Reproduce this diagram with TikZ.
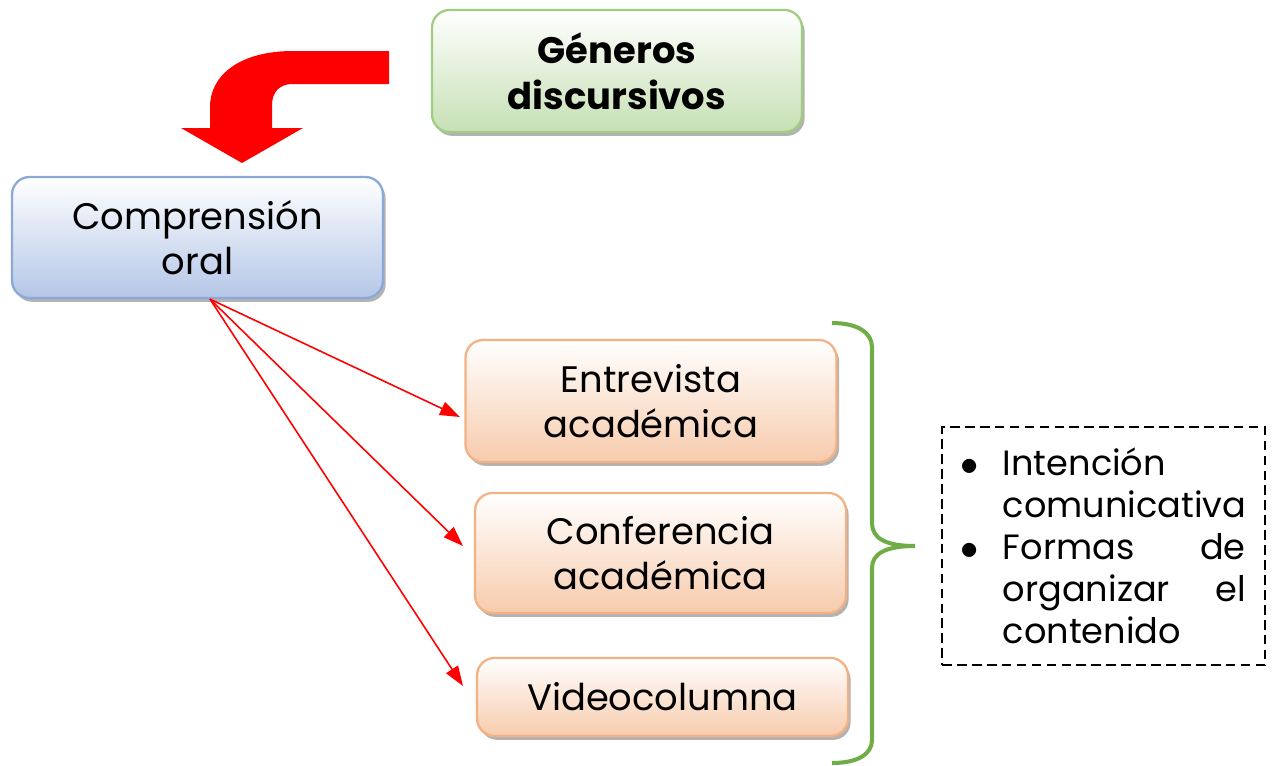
\documentclass[tikz,border=0pt]{standalone}
\usepackage{fontspec}
\setmainfont{Poppins}
\usepackage{tikz}
\usetikzlibrary{arrows.meta,shapes,positioning,shadows}
\definecolor{gngreen}{RGB}{160,205,130}
\definecolor{gnlightgreen}{RGB}{198,224,180}
\definecolor{gnblue}{RGB}{140,168,214}
\definecolor{gnlightblue}{RGB}{180,198,231}
\definecolor{gnorange}{RGB}{244,177,131}
\definecolor{gnlightorange}{RGB}{247,203,172}
\definecolor{gnbrace}{RGB}{112,173,71}
\tikzstyle{arrow} = [line width=0.9pt,red,-{Triangle[length=0.4cm,width=0.28cm]}]
\tikzstyle{box} = [rectangle, rounded corners=0.35cm, align=center, line width=1.3pt, top color=white, drop shadow={shadow xshift=1.5pt, shadow yshift=-2.2pt, fill=black!50, opacity=0.6}, font=\fontsize{21}{26}\selectfont]
\tikzstyle{titlebox} = [box, draw=gngreen, bottom color=gnlightgreen, minimum width=7.4cm, minimum height=2.44cm, font=\bfseries\fontsize{21}{26}\selectfont]
\tikzstyle{mainbox} = [box, draw=gnblue, bottom color=gnlightblue, minimum width=7.42cm, minimum height=2.42cm]
\tikzstyle{genrebox} = [box, draw=gnorange, bottom color=gnlightorange, minimum width=7.42cm]
\tikzstyle{notebox} = [rectangle, draw, line width=1.2pt, dash pattern=on 5.5pt off 3pt, minimum width=6.46cm, minimum height=4.76cm, font=\fontsize{20}{24}\selectfont]

\begin{document}
\begin{tikzpicture}[x=0.02cm, y=-0.02cm]
\useasboundingbox (0,0) rectangle (1272,765);
% Top and main boxes
\node (generos) [titlebox] at (617,71) {Géneros\\discursivos};
\node (comp) [mainbox] at (197.5,237.5) {Comprensión\\oral};

% Big curved arrow
\fill[red] (389,51) -- (293,51) .. controls (240,51) and (210,75) .. (210,107) -- (210,128) -- (181,128) -- (242,163) -- (303,128) -- (272,128) -- (272,105) .. controls (272,92) and (280,84) .. (292,84) -- (389,84) -- cycle;

% Genres
\node (entrevista) [genrebox, minimum height=2.44cm] at (651,401) {Entrevista\\académica};
\node (conferencia) [genrebox, minimum height=2.4cm] at (660.5,553) {Conferencia\\académica};
\node (video) [genrebox, minimum height=1.56cm] at (662.5,697) {Videocolumna};

\coordinate (start) at ([xshift=0.25cm]comp.south);
\coordinate (e1) at (460,417);
\coordinate (e2) at (463,546);
\coordinate (e3) at (463,686);
\draw[arrow] (start) -- (e1);
\draw[arrow] (start) -- (e2);
\draw[arrow] (start) -- (e3);

% Brace
\draw[gnbrace, line width=2.3pt] (832,323) .. controls (858,323) and (872,333) .. (872,347) -- (872,523) .. controls (872,538) and (885,546) .. (915,546) .. controls (885,546) and (872,554) .. (872,568) -- (872,740) .. controls (872,754) and (858,763) .. (832,763);

% Notes
\node (notas) [notebox] at (1103.5,546) {\begin{tabular}{@{}l@{\hspace{0.48cm}}l@{}}
\rule{0pt}{22.5pt}$\bullet$ & Intención\\
 & comunicativa\\
$\bullet$ & \makebox[4.86cm][s]{Formas\hfill de}\\
 & \makebox[4.86cm][s]{organizar\hfill el}\\
 & contenido
\end{tabular}};
\end{tikzpicture}
\end{document}
